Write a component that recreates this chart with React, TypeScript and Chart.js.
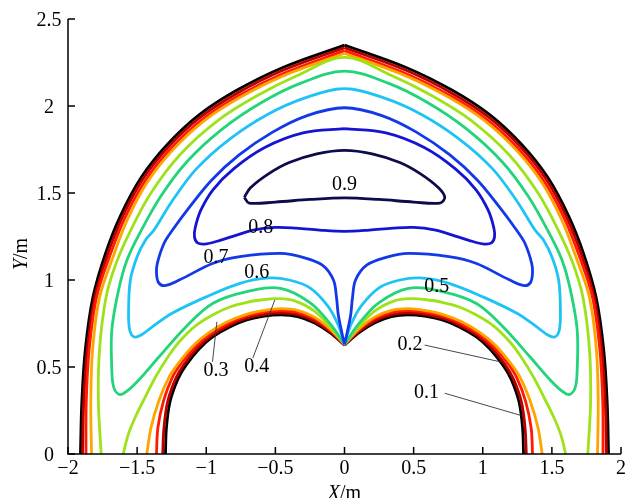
import { useEffect, useRef } from "react";
import { Chart, registerables } from "chart.js";

Chart.register(...registerables);

type Pt = [number, number];

// Axis ticks
const xTicks = [-2, -1.5, -1, -0.5, 0, 0.5, 1, 1.5, 2];
const xTickLabels = ["−2", "−1.5", "−1", "−0.5", "0", "0.5", "1", "1.5", "2"];
const yTicks = [0, 0.5, 1, 1.5, 2, 2.5];
const yTickLabels = ["0", "0.5", "1", "1.5", "2", "2.5"];

// Outer wall (pointed arch), left and right halves
const wallOuterL: Pt[] = [[-1.91, 0], [-1.9, 0.3], [-1.875, 0.6], [-1.82, 0.9], [-1.73, 1.15], [-1.62, 1.37], [-1.47, 1.59], [-1.28, 1.78], [-1.05, 1.95], [-0.78, 2.09], [-0.45, 2.22], [0, 2.35]];
const wallOuterR: Pt[] = [[0, 2.35], [0.45, 2.22], [0.78, 2.09], [1.05, 1.95], [1.28, 1.78], [1.47, 1.59], [1.62, 1.37], [1.73, 1.15], [1.82, 0.9], [1.875, 0.6], [1.9, 0.3], [1.91, 0]];

// Inner wall (two humps meeting at the cusp)
const wallInnerL: Pt[] = [[-1.295, 0], [-1.288, 0.15], [-1.262, 0.3], [-1.205, 0.43], [-1.146, 0.51], [-1.05, 0.605], [-0.951, 0.674], [-0.83, 0.73], [-0.707, 0.77], [-0.58, 0.792], [-0.46, 0.8], [-0.34, 0.79], [-0.22, 0.755], [-0.1, 0.695], [0, 0.625]];
const wallInnerR: Pt[] = [[1.295, 0], [1.288, 0.15], [1.262, 0.3], [1.205, 0.43], [1.146, 0.51], [1.05, 0.605], [0.951, 0.674], [0.83, 0.73], [0.707, 0.77], [0.58, 0.792], [0.46, 0.8], [0.34, 0.79], [0.22, 0.755], [0.1, 0.695], [0, 0.625]];

// Level 0.1
const c01OuterL: Pt[] = [[-1.895, 0], [-1.886, 0.3], [-1.86, 0.6], [-1.806, 0.9], [-1.715, 1.143], [-1.606, 1.362], [-1.458, 1.58], [-1.27, 1.768], [-1.042, 1.936], [-0.773, 2.075], [-0.445, 2.205], [0, 2.335]];
const c01OuterR: Pt[] = [[0, 2.335], [0.445, 2.205], [0.773, 2.075], [1.042, 1.936], [1.27, 1.768], [1.458, 1.58], [1.606, 1.362], [1.715, 1.143], [1.806, 0.9], [1.86, 0.6], [1.886, 0.3], [1.895, 0]];
const c01InnerL: Pt[] = [[-1.315, 0], [-1.306, 0.15], [-1.279, 0.302], [-1.22, 0.435], [-1.16, 0.516], [-1.062, 0.612], [-0.96, 0.682], [-0.837, 0.739], [-0.71, 0.78], [-0.58, 0.803], [-0.46, 0.811], [-0.34, 0.801], [-0.22, 0.765], [-0.1, 0.702], [0, 0.627]];
const c01InnerR: Pt[] = [[1.315, 0], [1.306, 0.15], [1.279, 0.302], [1.22, 0.435], [1.16, 0.516], [1.062, 0.612], [0.96, 0.682], [0.837, 0.739], [0.71, 0.78], [0.58, 0.803], [0.46, 0.811], [0.34, 0.801], [0.22, 0.765], [0.1, 0.702], [0, 0.627]];

// Level 0.2
const c02OuterL: Pt[] = [[-1.87, 0], [-1.868, 0.3], [-1.847, 0.6], [-1.794, 0.9], [-1.699, 1.136], [-1.591, 1.353], [-1.444, 1.568], [-1.258, 1.754], [-1.032, 1.921], [-0.766, 2.059], [-0.439, 2.188], [0, 2.318]];
const c02OuterR: Pt[] = [[0, 2.318], [0.439, 2.188], [0.766, 2.059], [1.032, 1.921], [1.258, 1.754], [1.444, 1.568], [1.591, 1.353], [1.699, 1.136], [1.794, 0.9], [1.847, 0.6], [1.868, 0.3], [1.87, 0]];
const c02InnerL: Pt[] = [[-1.36, 0], [-1.35, 0.15], [-1.31, 0.303], [-1.245, 0.44], [-1.18, 0.522], [-1.074, 0.62], [-0.968, 0.69], [-0.845, 0.749], [-0.714, 0.792], [-0.58, 0.815], [-0.46, 0.824], [-0.34, 0.814], [-0.22, 0.778], [-0.1, 0.71], [0, 0.628]];
const c02InnerR: Pt[] = [[1.36, 0], [1.35, 0.15], [1.31, 0.303], [1.245, 0.44], [1.18, 0.522], [1.074, 0.62], [0.968, 0.69], [0.845, 0.749], [0.714, 0.792], [0.58, 0.815], [0.46, 0.824], [0.34, 0.814], [0.22, 0.778], [0.1, 0.71], [0, 0.628]];

// Level 0.3
const c03OuterL: Pt[] = [[-1.83, 0], [-1.835, 0.3], [-1.822, 0.6], [-1.772, 0.9], [-1.677, 1.126], [-1.573, 1.342], [-1.43, 1.557], [-1.248, 1.742], [-1.025, 1.909], [-0.761, 2.047], [-0.435, 2.176], [0, 2.303]];
const c03OuterR: Pt[] = [[0, 2.303], [0.435, 2.176], [0.761, 2.047], [1.025, 1.909], [1.248, 1.742], [1.43, 1.557], [1.573, 1.342], [1.677, 1.126], [1.772, 0.9], [1.822, 0.6], [1.835, 0.3], [1.83, 0]];
const c03InnerL: Pt[] = [[-1.43, 0], [-1.4, 0.15], [-1.345, 0.3], [-1.27, 0.44], [-1.198, 0.525], [-1.088, 0.628], [-0.98, 0.698], [-0.855, 0.757], [-0.72, 0.8], [-0.58, 0.825], [-0.46, 0.835], [-0.34, 0.826], [-0.22, 0.788], [-0.1, 0.716], [0, 0.63]];
const c03InnerR: Pt[] = [[1.43, 0], [1.4, 0.15], [1.345, 0.3], [1.27, 0.44], [1.198, 0.525], [1.088, 0.628], [0.98, 0.698], [0.855, 0.757], [0.72, 0.8], [0.58, 0.825], [0.46, 0.835], [0.34, 0.826], [0.22, 0.788], [0.1, 0.716], [0, 0.63]];

// Level 0.4
const c04Outer: Pt[] = [[-1.76, 0], [-1.78, 0.3], [-1.772, 0.6], [-1.725, 0.9], [-1.65, 1.1], [-1.55, 1.28], [-1.4, 1.5], [-1.19, 1.72], [-0.91, 1.92], [-0.63, 2.06], [-0.34, 2.175], [0, 2.28], [0.34, 2.175], [0.63, 2.06], [0.91, 1.92], [1.19, 1.72], [1.4, 1.5], [1.55, 1.28], [1.65, 1.1], [1.725, 0.9], [1.772, 0.6], [1.78, 0.3], [1.76, 0]];
const c04InnerL: Pt[] = [[-1.6, 0], [-1.565, 0.11], [-1.512, 0.214], [-1.44, 0.33], [-1.366, 0.444], [-1.28, 0.555], [-1.195, 0.645], [-1.08, 0.735], [-0.951, 0.8], [-0.83, 0.845], [-0.707, 0.872], [-0.58, 0.888], [-0.488, 0.893], [-0.36, 0.88], [-0.22, 0.822], [-0.1, 0.728], [0, 0.632]];
const c04InnerR: Pt[] = [[1.6, 0], [1.565, 0.11], [1.512, 0.214], [1.44, 0.33], [1.366, 0.444], [1.28, 0.555], [1.195, 0.645], [1.08, 0.735], [0.951, 0.8], [0.83, 0.845], [0.707, 0.872], [0.58, 0.888], [0.488, 0.893], [0.36, 0.88], [0.22, 0.822], [0.1, 0.728], [0, 0.632]];

// Level 0.5 (loop through the cusp)
const c05: Pt[] = [[0, 0.63], [-0.1, 0.745], [-0.25, 0.87], [-0.463, 0.952], [-0.707, 0.933], [-0.951, 0.866], [-1.146, 0.732], [-1.341, 0.559], [-1.488, 0.425], [-1.56, 0.37], [-1.625, 0.342], [-1.668, 0.38], [-1.683, 0.483], [-1.683, 0.713], [-1.634, 0.943], [-1.573, 1.115], [-1.48, 1.27], [-1.33, 1.48], [-1.14, 1.68], [-0.88, 1.87], [-0.6, 2.02], [-0.32, 2.13], [0, 2.2],
  [0.32, 2.13], [0.6, 2.02], [0.88, 1.87], [1.14, 1.68], [1.33, 1.48], [1.48, 1.27], [1.573, 1.115], [1.634, 0.943], [1.683, 0.713], [1.683, 0.483], [1.668, 0.38], [1.625, 0.342], [1.56, 0.37], [1.488, 0.425], [1.341, 0.559], [1.146, 0.732], [0.951, 0.866], [0.707, 0.933], [0.463, 0.952], [0.25, 0.87], [0.1, 0.745], [0, 0.63]];

// Level 0.6
const c06: Pt[] = [[0, 0.63], [-0.045, 0.74], [-0.12, 0.85], [-0.25, 0.955], [-0.4, 1.0], [-0.55, 1.012], [-0.756, 0.981], [-0.998, 0.904], [-1.244, 0.81], [-1.4, 0.725], [-1.47, 0.684], [-1.52, 0.672], [-1.553, 0.71], [-1.562, 0.81], [-1.549, 1.0], [-1.5, 1.134], [-1.439, 1.23], [-1.378, 1.287], [-1.25, 1.45], [-1.07, 1.64], [-0.83, 1.81], [-0.56, 1.95], [-0.29, 2.045], [0, 2.1],
  [0.29, 2.045], [0.56, 1.95], [0.83, 1.81], [1.07, 1.64], [1.25, 1.45], [1.378, 1.287], [1.439, 1.23], [1.5, 1.134], [1.549, 1.0], [1.562, 0.81], [1.553, 0.71], [1.52, 0.672], [1.47, 0.684], [1.4, 0.725], [1.244, 0.81], [0.998, 0.904], [0.756, 0.981], [0.55, 1.012], [0.4, 1.0], [0.25, 0.955], [0.12, 0.85], [0.045, 0.74], [0, 0.63]];

// Level 0.7
const c07: Pt[] = [[0, 0.63], [-0.012, 0.67], [-0.025, 0.72], [-0.045, 0.8], [-0.058, 0.9], [-0.08, 1.0], [-0.16, 1.085], [-0.3, 1.13], [-0.463, 1.153], [-0.756, 1.134], [-0.95, 1.096], [-1.195, 1.0], [-1.3, 0.968], [-1.345, 0.985], [-1.36, 1.04], [-1.354, 1.096], [-1.305, 1.211], [-1.244, 1.287], [-1.12, 1.42], [-0.96, 1.575], [-0.76, 1.72], [-0.52, 1.85], [-0.27, 1.945], [0, 1.99],
  [0.27, 1.945], [0.52, 1.85], [0.76, 1.72], [0.96, 1.575], [1.12, 1.42], [1.244, 1.287], [1.305, 1.211], [1.354, 1.096], [1.36, 1.04], [1.345, 0.985], [1.3, 0.968], [1.195, 1.0], [0.95, 1.096], [0.756, 1.134], [0.463, 1.153], [0.3, 1.13], [0.16, 1.085], [0.08, 1.0], [0.058, 0.9], [0.045, 0.8], [0.025, 0.72], [0.012, 0.67], [0, 0.63]];

// Level 0.8 (closed loop)
const c08: Pt[] = [[0, 1.87], [-0.3, 1.845], [-0.58, 1.76], [-0.8, 1.64], [-0.95, 1.52], [-1.04, 1.4], [-1.08, 1.3], [-1.085, 1.245], [-1.06, 1.212], [-1.0, 1.208], [-0.9, 1.228], [-0.78, 1.258], [-0.65, 1.288], [-0.5, 1.302], [-0.35, 1.298], [-0.18, 1.287], [0, 1.28],
  [0.18, 1.287], [0.35, 1.298], [0.5, 1.302], [0.65, 1.288], [0.78, 1.258], [0.9, 1.228], [1.0, 1.208], [1.06, 1.212], [1.085, 1.245], [1.08, 1.3], [1.04, 1.4], [0.95, 1.52], [0.8, 1.64], [0.58, 1.76], [0.3, 1.845], [0, 1.87]];

// Level 0.9 (closed loop)
const c09: Pt[] = [[-0.725, 1.475], [-0.68, 1.53], [-0.55, 1.61], [-0.4, 1.675], [-0.2, 1.725], [0, 1.745], [0.2, 1.725], [0.4, 1.675], [0.55, 1.61], [0.68, 1.53], [0.725, 1.475], [0.69, 1.442], [0.5, 1.448], [0.25, 1.463], [0, 1.472], [-0.25, 1.463], [-0.5, 1.448], [-0.69, 1.442], [-0.725, 1.475]];

// Contour level labels and their positions
const levelLabels = ["0.9", "0.8", "0.7", "0.6", "0.5", "0.4", "0.3", "0.2", "0.1"];
const labelX = [0.0, -0.605, -0.93, -0.634, 0.667, -0.634, -0.93, 0.474, 0.594];
const labelY = [1.546, 1.3, 1.126, 1.04, 0.96, 0.5, 0.477, 0.626, 0.35];

// Leader lines from labels to their contours
const leader04: Pt[] = [[-0.663, 0.552], [-0.504, 0.885]];
const leader03: Pt[] = [[-0.955, 0.53], [-0.923, 0.76]];
const leader02: Pt[] = [[0.58, 0.626], [1.154, 0.525]];
const leader01: Pt[] = [[0.725, 0.349], [1.275, 0.222]];

const colWall = "#000000";
const col01 = "#b80000";
const col02 = "#ff1a00";
const col03 = "#ffa500";
const col04 = "#9ee21a";
const col05 = "#22d47a";
const col06 = "#1ec3f5";
const col07 = "#1238e8";
const col08 = "#1414d2";
const col09 = "#0c0c4a";

const pts = (a: Pt[]) => a.map(([x, y]) => ({ x, y }));

const line = (data: Pt[], color: string, order: number, width = 2.8) => ({
  data: pts(data),
  borderColor: color,
  borderWidth: width,
  showLine: true,
  pointRadius: 0,
  tension: 0.35,
  order,
  clip: { left: 5, right: 5, top: 5, bottom: 0 },
});

const SERIF = '"Liberation Serif", "Times New Roman", serif';

const decor = {
  id: "decor",
  afterDatasetsDraw(chart: any) {
    const { ctx, chartArea: a, scales } = chart;
    const sx = scales.x;
    const sy = scales.y;
    ctx.save();

    // leader lines
    ctx.strokeStyle = "#333";
    ctx.lineWidth = 0.9;
    [leader04, leader03, leader02, leader01].forEach((ld) => {
      ctx.beginPath();
      ctx.moveTo(sx.getPixelForValue(ld[0][0]), sy.getPixelForValue(ld[0][1]));
      ctx.lineTo(sx.getPixelForValue(ld[1][0]), sy.getPixelForValue(ld[1][1]));
      ctx.stroke();
    });

    // contour labels
    ctx.fillStyle = "#000";
    ctx.font = `20px ${SERIF}`;
    ctx.textAlign = "center";
    ctx.textBaseline = "middle";
    levelLabels.forEach((t, i) => {
      ctx.fillText(t, sx.getPixelForValue(labelX[i]), sy.getPixelForValue(labelY[i]));
    });

    // axes
    ctx.strokeStyle = "#000";
    ctx.lineWidth = 1.5;
    ctx.beginPath();
    ctx.moveTo(a.left, a.top);
    ctx.lineTo(a.left, a.bottom);
    ctx.lineTo(a.right, a.bottom);
    ctx.stroke();

    ctx.beginPath();
    xTicks.forEach((v) => {
      const px = sx.getPixelForValue(v);
      ctx.moveTo(px, a.bottom);
      ctx.lineTo(px, a.bottom - 7);
    });
    yTicks.forEach((v) => {
      const py = sy.getPixelForValue(v);
      ctx.moveTo(a.left, py);
      ctx.lineTo(a.left + 7, py);
    });
    ctx.stroke();

    // tick labels
    ctx.textBaseline = "alphabetic";
    ctx.textAlign = "center";
    xTicks.forEach((v, i) => {
      ctx.fillText(xTickLabels[i], sx.getPixelForValue(v), a.bottom + 20);
    });
    yTicks.forEach((v, i) => {
      ctx.fillText(yTickLabels[i], a.left - 19, sy.getPixelForValue(v) + 7);
    });

    // axis titles with italic variable names
    ctx.textAlign = "left";
    ctx.font = `italic 20px ${SERIF}`;
    const wX = ctx.measureText("X").width;
    ctx.font = `20px ${SERIF}`;
    const wXr = ctx.measureText("/m").width;
    const xStart = (a.left + a.right) / 2 - (wX + wXr) / 2;
    ctx.font = `italic 20px ${SERIF}`;
    ctx.fillText("X", xStart, a.bottom + 45);
    ctx.font = `20px ${SERIF}`;
    ctx.fillText("/m", xStart + wX, a.bottom + 45);

    ctx.font = `italic 20px ${SERIF}`;
    const wY = ctx.measureText("Y").width;
    ctx.font = `20px ${SERIF}`;
    const wYr = ctx.measureText("/m").width;
    ctx.translate(27, 254);
    ctx.rotate(-Math.PI / 2);
    const yStart = -(wY + wYr) / 2;
    ctx.font = `italic 20px ${SERIF}`;
    ctx.fillText("Y", yStart, 0);
    ctx.font = `20px ${SERIF}`;
    ctx.fillText("/m", yStart + wY, 0);

    ctx.restore();
  },
};

export default function App() {
  const ref = useRef<HTMLCanvasElement>(null);

  useEffect(() => {
    document.body.style.margin = "0";
    const canvas = ref.current;
    if (!canvas) return;
    const chart = new Chart(canvas, {
      type: "scatter",
      data: {
        datasets: [
          line(wallOuterL, colWall, 100),
          line(wallOuterR, colWall, 100),
          line(wallInnerL, colWall, 100),
          line(wallInnerR, colWall, 100),
          line(c01OuterL, col01, 90),
          line(c01OuterR, col01, 90),
          line(c01InnerL, col01, 90),
          line(c01InnerR, col01, 90),
          line(c02OuterL, col02, 80),
          line(c02OuterR, col02, 80),
          line(c02InnerL, col02, 80),
          line(c02InnerR, col02, 80),
          line(c03OuterL, col03, 70),
          line(c03OuterR, col03, 70),
          line(c03InnerL, col03, 70),
          line(c03InnerR, col03, 70),
          line(c04Outer, col04, 60),
          line(c04InnerL, col04, 60),
          line(c04InnerR, col04, 60),
          line(c05, col05, 50),
          line(c06, col06, 40),
          line(c07, col07, 30),
          line(c08, col08, 20),
          line(c09, col09, 10),
        ] as any,
      },
      options: {
        animation: false,
        responsive: false,
        maintainAspectRatio: false,
        layout: { padding: { left: 68, right: 6, top: 19, bottom: 44 } },
        scales: {
          x: { type: "linear", min: -2, max: 2, display: false },
          y: { type: "linear", min: 0, max: 2.5, display: false },
        },
        plugins: {
          legend: { display: false },
          tooltip: { enabled: false },
        },
      },
      plugins: [decor],
    });
    return () => chart.destroy();
  }, []);

  return (
    <div style={{ width: 627, height: 498 }}>
      <canvas ref={ref} width={627} height={498} style={{ display: "block" }} />
    </div>
  );
}
